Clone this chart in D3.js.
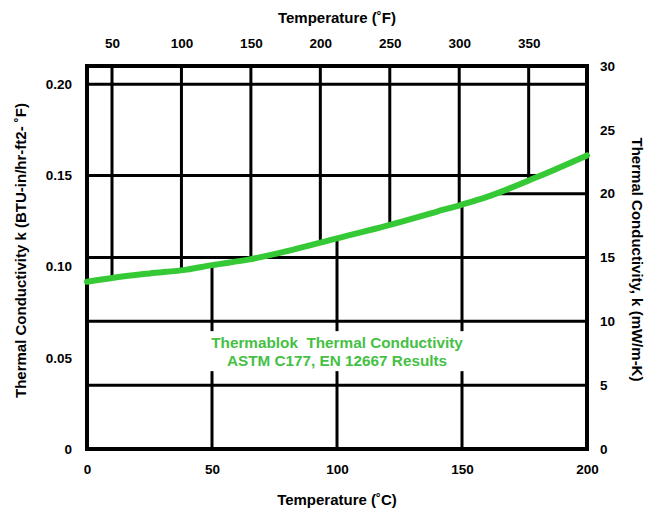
<!DOCTYPE html>
<html>
<head>
<meta charset="utf-8">
<script src="https://cdn.jsdelivr.net/npm/d3@7"></script>
<style>
    body { margin: 0; background: #fff; }
    text { font-family: "Liberation Sans", Arial, sans-serif; font-weight: bold; }
</style>
</head>
<body>
<div id="svgDiv"></div>
<script>

// curve (deg C -> mW/m-K)
var tempC = [0, 10, 25, 40, 50, 65, 80, 100, 120, 140, 150, 160, 180, 200];
var kValues = [13.1, 13.4, 13.75, 14.05, 14.4, 14.85, 15.5, 16.5, 17.5, 18.6, 19.15, 19.75, 21.3, 23.0];

var ticksC = [0, 50, 100, 150, 200];
var ticksF = [50, 100, 150, 200, 250, 300, 350];
var ticksLeft = [0, 0.05, 0.10, 0.15, 0.20];
var ticksRight = [0, 5, 10, 15, 20, 25, 30];

// grid lines
var gridF = [50, 100, 150, 200, 250, 300, 350];   // above curve
var gridC = [50, 100, 150];                       // below curve
var gridRightFull = [5, 10, 15];
var gridRightBelow = [20];
var gridLeftFull = [0.20];
var gridLeftAbove = [0.15];

var labelLines = ["Thermablok  Thermal Conductivity", "ASTM C177, EN 12667 Results"];

var width = 656, height = 508;
var pLeft = 87, pRight = 587, pTop = 66, pBottom = 449;
var green = "#35c935";

var svg = d3.select("#svgDiv")
    .append("svg")
    .attr("width", width)
    .attr("height", height);

var xC = d3.scaleLinear().domain([0, 200]).range([pLeft, pRight]);
var xF = d3.scaleLinear().domain([32, 392]).range([pLeft, pRight]);
var yR = d3.scaleLinear().domain([0, 30]).range([pBottom, pTop]);
var yL = d3.scaleLinear().domain([0, 0.21]).range([pBottom, pTop]);

var pts = tempC.map(function(c, i) { return [c, kValues[i]]; });

var defs = svg.append("defs");
defs.append("clipPath").attr("id", "above")
    .append("path")
    .attr("d", d3.area().curve(d3.curveMonotoneX)
        .x(function(d) { return xC(d[0]); })
        .y0(pTop)
        .y1(function(d) { return yR(d[1]); })(pts));
defs.append("clipPath").attr("id", "below")
    .append("path")
    .attr("d", d3.area().curve(d3.curveMonotoneX)
        .x(function(d) { return xC(d[0]); })
        .y0(function(d) { return yR(d[1]); })
        .y1(pBottom)(pts));

var grid = svg.append("g")
    .attr("stroke", "#000")
    .attr("stroke-width", 3);

function vLines(data, scale, clip) {
    var g = grid.append("g");
    if (clip) g.attr("clip-path", "url(#" + clip + ")");
    g.selectAll("line").data(data).enter().append("line")
        .attr("x1", function(d) { return scale(d); })
        .attr("x2", function(d) { return scale(d); })
        .attr("y1", pTop)
        .attr("y2", pBottom);
    return g;
}

function hLines(data, scale, clip) {
    var g = grid.append("g");
    if (clip) g.attr("clip-path", "url(#" + clip + ")");
    g.selectAll("line").data(data).enter().append("line")
        .attr("x1", pLeft)
        .attr("x2", pRight)
        .attr("y1", function(d) { return scale(d); })
        .attr("y2", function(d) { return scale(d); });
    return g;
}

vLines(gridF, xF, "above");
vLines(gridC, xC, "below");
hLines(gridRightFull, yR);
hLines(gridRightBelow, yR, "below");
hLines(gridLeftFull, yL);
hLines(gridLeftAbove, yL, "above");

// label box (cuts the vertical lines)
var label = svg.append("g");
var boxRect = label.append("rect").attr("fill", "#fff");
var labelText = label.append("text")
    .attr("text-anchor", "middle")
    .attr("fill", "#45c045")
    .style("white-space", "pre")
    .style("font-size", "15.3px");
labelText.selectAll("tspan").data(labelLines).enter().append("tspan")
    .attr("x", xC(100))
    .attr("y", function(d, i) { return yR(7.9) + i * 18; })
    .text(function(d) { return d; });
var bb = labelText.node().getBBox();
boxRect.attr("x", bb.x - 4).attr("y", bb.y - 3)
    .attr("width", bb.width + 8).attr("height", bb.height + 5);

// frame
svg.append("rect")
    .attr("x", pLeft).attr("y", pTop)
    .attr("width", pRight - pLeft).attr("height", pBottom - pTop)
    .attr("fill", "none")
    .attr("stroke", "#000")
    .attr("stroke-width", 4);

// curve
svg.append("path")
    .datum(pts)
    .attr("fill", "none")
    .attr("stroke", green)
    .attr("stroke-width", 6)
    .attr("stroke-linecap", "round")
    .attr("d", d3.line().curve(d3.curveMonotoneX)
        .x(function(d) { return xC(d[0]); })
        .y(function(d) { return yR(d[1]); }));

// axes: text only, no domain/ticks
function styleAxis(g) {
    g.select(".domain").remove();
    g.selectAll(".tick line").remove();
    g.selectAll(".tick text")
        .attr("fill", "#000")
        .style("font-size", "13.5px")
        .style("font-family", "\"Liberation Sans\", Arial, sans-serif")
        .style("font-weight", "bold");
}

svg.append("g")
    .attr("transform", "translate(0," + (pBottom + 8) + ")")
    .call(d3.axisBottom(xC).tickValues(ticksC).tickSize(0).tickPadding(7).tickFormat(d3.format("d")))
    .call(styleAxis);

svg.append("g")
    .attr("transform", "translate(0," + (pTop - 16) + ")")
    .call(d3.axisTop(xF).tickValues(ticksF).tickSize(0).tickPadding(2).tickFormat(d3.format("d")))
    .call(styleAxis);

svg.append("g")
    .attr("transform", "translate(" + (pLeft - 15) + ",0)")
    .call(d3.axisLeft(yL).tickValues(ticksLeft).tickSize(0).tickPadding(0)
        .tickFormat(function(d) { return d === 0 ? "0" : d3.format(".2f")(d); }))
    .call(styleAxis);

svg.append("g")
    .attr("transform", "translate(" + (pRight + 13) + ",0)")
    .call(d3.axisRight(yR).tickValues(ticksRight).tickSize(0).tickPadding(0).tickFormat(d3.format("d")))
    .call(styleAxis);

// titles
svg.append("text")
    .attr("x", xC(100)).attr("y", 23)
    .attr("text-anchor", "middle")
    .style("font-size", "15px")
    .text("Temperature (˚F)");

svg.append("text")
    .attr("x", xC(100)).attr("y", 505)
    .attr("text-anchor", "middle")
    .style("font-size", "15px")
    .text("Temperature (˚C)");

svg.append("text")
    .attr("transform", "translate(26," + ((pTop + pBottom) / 2 - 7) + ") rotate(-90)")
    .attr("text-anchor", "middle")
    .style("font-size", "15px")
    .text("Thermal Conductivity k (BTU-in/hr-ft2- ˚F)");

svg.append("text")
    .attr("transform", "translate(632," + ((pTop + pBottom) / 2 + 2) + ") rotate(90)")
    .attr("text-anchor", "middle")
    .style("font-size", "15px")
    .text("Thermal Conductivity, k (mW/m-K)");

</script>
</body>
</html>
